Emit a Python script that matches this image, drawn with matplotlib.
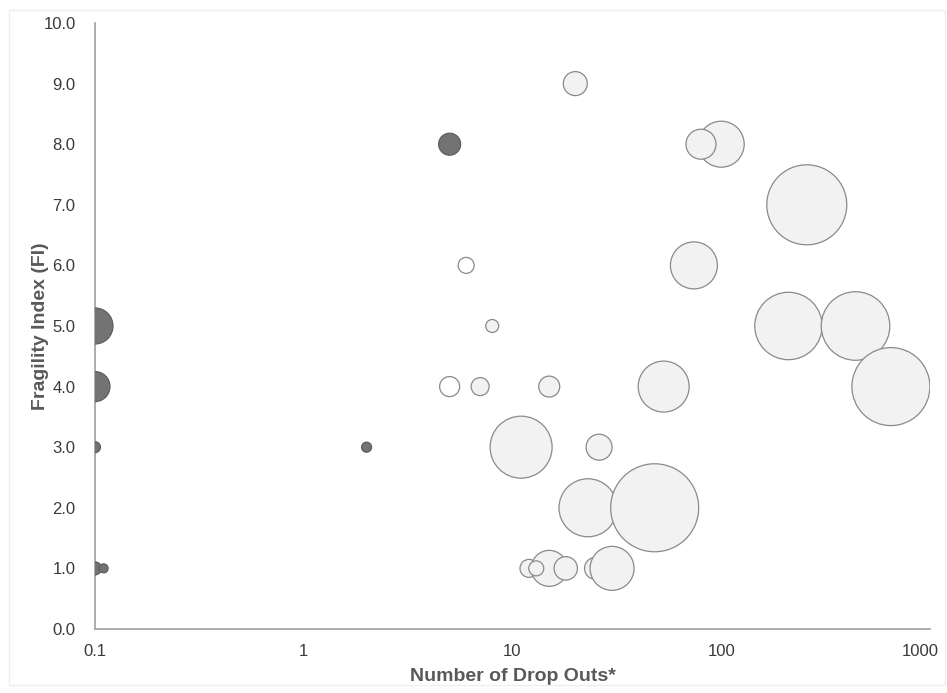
import matplotlib
matplotlib.use("Agg")
import matplotlib.pyplot as plt
import matplotlib.transforms as mtransforms
from matplotlib.patches import Rectangle

plt.rcParams['font.family'] = ['Liberation Sans', 'DejaVu Sans']

# Series 1 (dark bubbles)
dark_x = [0.1, 0.1, 0.1, 0.1, 0.11, 2, 5]
dark_y = [5.0, 4.0, 3.0, 1.0, 1.0, 3.0, 8.0]
dark_n = [324, 225, 30, 42, 20, 25, 121]

# Series 2 (light grey bubbles)
light_x = [20, 100, 80, 257, 74, 8, 7, 15, 53, 210, 440, 650, 11, 26,
           23, 48, 25, 30, 12, 15, 13, 18]
light_y = [9.0, 8.0, 8.0, 7.0, 6.0, 5.0, 4.0, 4.0, 4.0, 5.0, 5.0, 4.0, 3.0, 3.0,
           2.0, 2.0, 1.0, 1.0, 1.0, 1.0, 1.0, 1.0]
light_n = [144, 529, 225, 1600, 552, 42, 81, 110, 650, 1136, 1176, 1521, 961, 169,
           841, 1936, 121, 484, 81, 324, 56, 137]

# Series 3 (white bubbles)
white_x = [6, 5]
white_y = [6.0, 4.0]
white_n = [64, 100]

x_ticks = [0.1, 1, 10, 100, 1000]
x_tick_labels = ["0.1", "1", "10", "100", "1000"]
y_ticks = [0, 1, 2, 3, 4, 5, 6, 7, 8, 9, 10]

DPI = 100
SCALE = (2 * 72 / DPI) ** 2  # bubble value -> marker area

fig = plt.figure(figsize=(9.47, 6.93), dpi=DPI)
fig.patches.append(Rectangle((0.009, 0.012), 0.989, 0.974, transform=fig.transFigure,
                             fill=False, edgecolor='#efefef', linewidth=1.0))
ax = fig.add_axes([0.1003, 0.0924, 0.8817, 0.8744])

ax.scatter(light_x, light_y, s=[v * SCALE for v in light_n], facecolor='#f2f2f2',
           edgecolor='#8a8a8a', linewidth=0.9, zorder=2)
ax.scatter(white_x, white_y, s=[v * SCALE for v in white_n], facecolor='#ffffff',
           edgecolor='#8a8a8a', linewidth=0.9, zorder=3)
ax.scatter(dark_x, dark_y, s=[v * SCALE for v in dark_n], facecolor='#737373',
           edgecolor='#5e5e5e', linewidth=0.9, zorder=4)

ax.set_xscale('log')
ax.set_xlim(0.1, 1000)
ax.set_ylim(0, 10)
ax.set_xticks(x_ticks)
ax.set_xticklabels(x_tick_labels)
ax.xaxis.set_minor_locator(matplotlib.ticker.NullLocator())
ax.set_yticks(y_ticks)
ax.set_yticklabels([f"{v:.1f}" for v in y_ticks])

for s in ['top', 'right']:
    ax.spines[s].set_visible(False)
for s in ['left', 'bottom']:
    ax.spines[s].set_color('#a6a6a6')
    ax.spines[s].set_linewidth(1.3)

ax.tick_params(axis='both', length=0, labelsize=12, colors='#3a3a3a')
ax.tick_params(axis='x', pad=11)
ax.tick_params(axis='y', pad=14)

# shift the last x tick label inward so it stays inside the frame
last = ax.get_xticklabels()[-1]
last.set_transform(last.get_transform() +
                   mtransforms.ScaledTranslation(-0.10, 0, fig.dpi_scale_trans))

ax.set_xlabel("Number of Drop Outs*", fontsize=14, fontweight='bold', color='#595959', labelpad=6)
ax.set_ylabel("Fragility Index (FI)", fontsize=14, fontweight='bold', color='#595959', labelpad=-4)

fig.savefig("out.png", dpi=DPI)
